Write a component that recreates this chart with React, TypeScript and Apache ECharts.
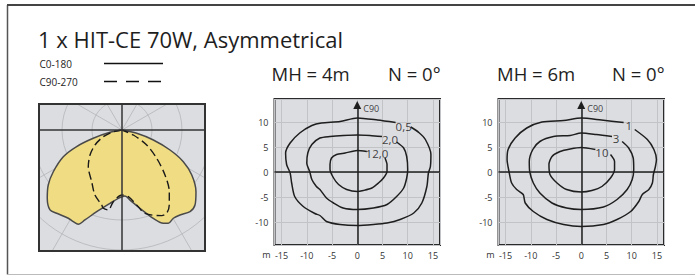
import React, { useEffect, useRef } from "react";
import * as echarts from "echarts";

const TITLE = "1 x HIT-CE 70W, Asymmetrical";
const LEGEND_LABELS = ["C0-180", "C90-270"];
const HEADERS_4M = ["MH = 4m", "N = 0°"];
const HEADERS_6M = ["MH = 6m", "N = 0°"];
const AXIS_UNIT = "m";
const AXIS_NAME = "C90";

// Polar intensity curves: [intensity, angle from nadir in degrees (+ = C0 side / right)]
const C0_180: [number, number][] = [
  [0, -90], [12.2, -79], [29.9, -74], [48.3, -70], [64.5, -65.5], [80.4, -58.7],
  [92, -53.3], [101.2, -47.6], [107.6, -42], [105.8, -38.1], [103.3, -31.3],
  [103.8, -28], [103.9, -24.9], [97.3, -22.4], [85.5, -17.2], [74.3, -9.3],
  [68.4, -3.1], [66.7, 0], [66.1, 2.6], [70.5, 6.5], [80.3, 12.9], [93.7, 19.5],
  [102, 23.9], [104.2, 26.4], [102.1, 30.2], [102.9, 34.3], [106.3, 39.8],
  [104.7, 44.2], [96.3, 50.2], [83, 57.2], [69, 62.7], [52, 67.4], [32.9, 72.3],
  [15.1, 77.3], [0, 90],
];
const C90_270: [number, number][] = [
  [0, -90], [8.9, -78.9], [19.9, -70.3], [30.9, -60.9], [40.6, -52], [49.8, -42.6],
  [59.9, -30.4], [70.4, -22.6], [77.7, -15.1], [80.5, -13.4], [81.2, -9.7],
  [72.2, -6.9], [65, 0], [67, 5.4], [76.4, 11.1], [86.4, 15.4], [94.4, 24.9],
  [94.5, 28.2], [88.7, 32.2], [77.7, 37.5], [62.2, 43.7], [44.8, 50.8],
  [28.9, 58.7], [12.4, 66.1], [0, 90],
];

// Isolux contours, MH = 4m  (x, y in metres)
const ISO_4M_05: [number, number][] = [
  [10.6, 9.0], [12.2, 7.9], [13.5, 6.5], [14.6, 3.5], [14.5, 1.1], [14.1, -0.2],
  [13.8, -2.9], [12.8, -6.2], [11.2, -8.2], [8.5, -9.5], [5.9, -10.2], [3.2, -10.5],
  [0, -10.7], [-3.4, -10.5], [-6.1, -9.9], [-7.4, -8.7], [-8.4, -8.3], [-10.7, -6.9],
  [-12.4, -4.9], [-13, -2.2], [-13.3, -0.2], [-14, 1.5], [-14.2, 3.8], [-13.3, 5.8],
  [-11.4, 7.8], [-9, 9.3], [-7.1, 9.8], [-3.4, 10.1], [0, 10.8], [4, 10.4], [7.6, 9.9],
];
const ISO_4M_20: [number, number][] = [
  [7.8, 6.0], [9.2, 4.8], [9.8, 3.1], [10, 0.5], [9.8, -1.2], [9.2, -3.2], [7.8, -4.9],
  [5.9, -6.5], [3.2, -7.2], [0, -7.5], [-2.8, -7.2], [-4.7, -6.2], [-6.1, -5.2],
  [-7.4, -3.5], [-8.1, -2.9], [-9.0, -1.5], [-9.4, 0], [-10, 1.8], [-9.8, 3.8],
  [-9, 5.5], [-7.4, 6.8], [-5.4, 7.1], [-2.75, 7.3], [0, 7.4], [2.5, 7.3], [4.9, 7.1],
];
const ISO_4M_120: [number, number][] = [
  [5.5, 2.8], [5.9, 1.5], [5.9, 0.1], [5.2, -1.2], [4.2, -2.2], [2.9, -3.2], [1.2, -3.7],
  [0, -3.9], [-2.1, -3.5], [-3.7, -2.5], [-4.7, -1.2], [-5.4, 0.5], [-5.4, 1.5],
  [-5.1, 2.8], [-4.1, 3.5], [-2.4, 3.8], [0, 4.3], [1.9, 4.1],
];
const LABELS_4M = [
  { name: "0,5", value: [9.2, 9.1] },
  { name: "2,0", value: [6.5, 6.5] },
  { name: "12,0", value: [3.9, 3.7] },
];

// Isolux contours, MH = 6m
const ISO_6M_1: [number, number][] = [
  [10.6, 8.5], [13.1, 6.5], [14.4, 4.5], [14.9, 2.5], [14.7, 1.1], [14.3, -0.5],
  [14.1, -2.2], [13.4, -3.5], [12.1, -4.5], [11.4, -5.9], [9.8, -7.9], [7.1, -9.5],
  [4.4, -10.5], [0, -10.9], [-3.5, -10.5], [-6.8, -9.5], [-9.5, -7.9], [-11.1, -6.2],
  [-11.5, -4.5], [-12.8, -3.5], [-13.8, -2.2], [-14.3, 0], [-14.7, 2.5], [-14.5, 4.5],
  [-13.1, 6.8], [-10.8, 8.8], [-7.8, 10], [-3.5, 10.3], [0, 10.8], [4, 10.4], [8.4, 9.9],
];
const ISO_6M_3: [number, number][] = [
  [8.1, 6.1], [9.4, 4.8], [10.3, 2.8], [10.4, 0.5], [10.1, -1.5], [9.1, -3.5], [7.1, -5.5],
  [4.4, -7], [0, -7.5], [-2.9, -7.2], [-5.8, -6.2], [-8.2, -4.2], [-9.5, -2.2],
  [-10.2, 0], [-10.3, 2.1], [-9.6, 4.5], [-8.2, 6.1], [-5.5, 7.1], [-2.2, 7.3],
  [0, 7.8], [3, 7.5], [6.1, 7.1],
];
const ISO_6M_10: [number, number][] = [
  [5.8, 3.5], [6.6, 2.1], [6.6, 0.5], [5.8, -1.2], [4.1, -2.9], [2.1, -3.7], [0, -4],
  [-2.9, -3.5], [-4.8, -2.2], [-6.2, -0.5], [-6.4, 1.5], [-5.8, 3.1], [-4.2, 4.1],
  [-2.2, 4.6], [0, 4.9], [2.8, 4.5],
];
const LABELS_6M = [
  { name: "1", value: [9.4, 9.3] },
  { name: "3", value: [6.9, 6.8] },
  { name: "10", value: [4.1, 3.9] },
];

const X_RANGE = [-16.4, 16.4];
const Y_RANGE = [-14.6, 14.6];

const FONT = "'Open Sans', sans-serif";

export default function App() {
  const ref = useRef<HTMLDivElement>(null);

  useEffect(() => {
    if (!ref.current) return;
    const chart = echarts.init(ref.current, undefined, { renderer: "svg" });

    const gridDefs = [
      { left: 274.5, top: 99, width: 165.5, height: 146 },
      { left: 498.5, top: 99, width: 165.5, height: 146 },
    ];

    const fmt = (v: number) => (Math.abs(v % 5) < 1e-6 ? String(v) : "");

    const xAxes = gridDefs.map((_, i) => ({
      gridIndex: i,
      type: "value",
      min: X_RANGE[0],
      max: X_RANGE[1],
      splitNumber: 6,
      axisLine: { show: false },
      axisTick: { show: false },
      splitLine: { show: true, lineStyle: { color: "#c2c3c7", width: 1 } },
      axisLabel: { formatter: fmt, fontSize: 9, color: "#333", margin: 6, fontFamily: FONT },
    }));
    const yAxes = gridDefs.map((_, i) => ({
      gridIndex: i,
      type: "value",
      min: Y_RANGE[0],
      max: Y_RANGE[1],
      splitNumber: 6,
      axisLine: { show: false },
      axisTick: { show: false },
      splitLine: { show: true, lineStyle: { color: "#c2c3c7", width: 1 } },
      axisLabel: { formatter: fmt, fontSize: 9, color: "#333", margin: 6, fontFamily: FONT },
    }));

    const contourLine = (data: [number, number][], i: number, extra: any = {}) => ({
      type: "line",
      xAxisIndex: i,
      yAxisIndex: i,
      data,
      symbol: "none",
      smooth: 0.25,
      lineStyle: { color: "#1e1e1e", width: 1.5 },
      z: 3,
      silent: true,
      ...extra,
    });

    const axisMarks = (i: number) => [
      {
        markLine: {
          silent: true,
          symbol: ["none", "triangle"],
          symbolSize: 8,
          label: { show: false },
          lineStyle: { color: "#1e1e1e", width: 1.5, type: "solid" },
          data: [[{ coord: [0, Y_RANGE[0]] }, { coord: [0, 13.4] }]],
        },
      },
      {
        markLine: {
          silent: true,
          symbol: ["none", "none"],
          label: { show: false },
          lineStyle: { color: "#1e1e1e", width: 1.5, type: "solid" },
          data: [[{ coord: [X_RANGE[0], 0] }, { coord: [X_RANGE[1], 0] }]],
        },
      },
    ];

    const labelSeries = (labels: any[], i: number) => ({
      type: "scatter",
      xAxisIndex: i,
      yAxisIndex: i,
      symbolSize: 0,
      silent: true,
      z: 6,
      itemStyle: { color: "#1e1e1e" },
      data: [
        ...labels,
        { name: AXIS_NAME, value: [1.2, 12.8], label: { fontSize: 9, align: "left" } },
      ],
      label: {
        show: true,
        formatter: "{b}",
        position: [0, 0],
        align: "center",
        verticalAlign: "middle",
        color: "#111",
        fontSize: 11.5,
        fontFamily: FONT,
      },
    });

    const m4 = axisMarks(0);
    const m6 = axisMarks(1);

    const series: any[] = [
      {
        type: "line",
        coordinateSystem: "polar",
        polarIndex: 0,
        data: C0_180,
        symbol: "none",
        smooth: 0.3,
        lineStyle: { color: "#4a4a4a", width: 1.5 },
        areaStyle: { color: "#f0dc82", opacity: 1 },
        z: 3,
        silent: true,
      },
      {
        type: "line",
        coordinateSystem: "polar",
        polarIndex: 0,
        data: C90_270,
        symbol: "none",
        smooth: 0.3,
        lineStyle: { color: "#1a1a1a", width: 1.4, type: [8, 4] },
        z: 4,
        silent: true,
      },
      contourLine(ISO_4M_05, 0, m4[0]),
      contourLine(ISO_4M_20, 0, m4[1]),
      contourLine(ISO_4M_120, 0),
      labelSeries(LABELS_4M, 0),
      contourLine(ISO_6M_1, 1, m6[0]),
      contourLine(ISO_6M_3, 1, m6[1]),
      contourLine(ISO_6M_10, 1),
      labelSeries(LABELS_6M, 1),
    ];

    const c = "#b4b5b9";
    const t = "rgba(0,0,0,0)";

    const text = (x: number, y: number, s: string, size: number, extra: any = {}) => ({
      type: "text",
      x,
      y,
      z: 100,
      silent: true,
      style: {
        text: s,
        fill: "#1e1e1e",
        font: `${size}px ${FONT}`,
        verticalAlign: "middle",
        align: "left",
        ...extra,
      },
    });

    const graphic: any[] = [
      // polar box background
      { type: "rect", z: -10, silent: true, shape: { x: 39, y: 104, width: 166, height: 147 }, style: { fill: "#dcdde1" } },
      // masks around polar box
      { type: "rect", z: 50, silent: true, shape: { x: 0, y: 0, width: 254, height: 103 }, style: { fill: "#fff" } },
      { type: "rect", z: 50, silent: true, shape: { x: 0, y: 103, width: 38, height: 173 }, style: { fill: "#fff" } },
      { type: "rect", z: 50, silent: true, shape: { x: 206, y: 103, width: 48, height: 173 }, style: { fill: "#fff" } },
      { type: "rect", z: 50, silent: true, shape: { x: 38, y: 252, width: 168, height: 24 }, style: { fill: "#fff" } },
      // polar box border and cross
      { type: "rect", z: 60, silent: true, shape: { x: 39, y: 104, width: 166, height: 147 }, style: { fill: "none", stroke: "#333", lineWidth: 2 } },
      { type: "line", z: 60, silent: true, shape: { x1: 39, y1: 130, x2: 205, y2: 130 }, style: { stroke: "#333", lineWidth: 1.5 } },
      { type: "line", z: 60, silent: true, shape: { x1: 122, y1: 104, x2: 122, y2: 251 }, style: { stroke: "#333", lineWidth: 1.5 } },
      // frame
      { type: "line", z: 100, silent: true, shape: { x1: 7.5, y1: 5, x2: 7.5, y2: 274.5 }, style: { stroke: "#555", lineWidth: 1.5 } },
      { type: "line", z: 100, silent: true, shape: { x1: 7, y1: 5, x2: 695, y2: 5 }, style: { stroke: "#444", lineWidth: 2 } },
      { type: "line", z: 100, silent: true, shape: { x1: 7.5, y1: 274.5, x2: 695, y2: 274.5 }, style: { stroke: "#bbb", lineWidth: 1 } },
      // title
      text(38, 39, TITLE, 22),
      // legend
      text(39.5, 63.5, LEGEND_LABELS[0], 10),
      text(39.5, 81.5, LEGEND_LABELS[1], 10),
      { type: "line", z: 100, silent: true, shape: { x1: 104, y1: 63.5, x2: 163, y2: 63.5 }, style: { stroke: "#111", lineWidth: 1.5 } },
      { type: "line", z: 100, silent: true, shape: { x1: 104, y1: 81.5, x2: 163, y2: 81.5 }, style: { stroke: "#111", lineWidth: 1.5, lineDash: [13, 9] } },
      // headers
      text(271.5, 73, HEADERS_4M[0], 18.5),
      text(388, 73, HEADERS_4M[1], 18.5),
      text(497, 73, HEADERS_6M[0], 18.5),
      text(612, 73, HEADERS_6M[1], 18.5),
      // unit labels
      text(266.5, 254.5, AXIS_UNIT, 9, { align: "center", fill: "#333" }),
      text(490.5, 254.5, AXIS_UNIT, 9, { align: "center", fill: "#333" }),
    ];

    chart.setOption({
      animation: false,
      backgroundColor: "#fff",
      textStyle: { fontFamily: FONT },
      grid: gridDefs.map((g) => ({
        ...g,
        show: true,
        backgroundColor: "#dcdde1",
        borderColor: "#2a2a2a",
        borderWidth: 2,
      })),
      xAxis: xAxes,
      yAxis: yAxes,
      polar: [
        { center: [122, 130], radius: 147 },
        { center: [122, 130], radius: 120 },
      ],
      angleAxis: [
        {
          polarIndex: 0,
          type: "value",
          min: -180,
          max: 180,
          interval: 30,
          startAngle: 90,
          clockwise: false,
          axisLine: { show: false },
          axisTick: { show: false },
          axisLabel: { show: false },
          splitLine: { show: true, lineStyle: { color: [t, c, c, t, c, c, t, c, c, t, c, c], width: 0.8 } },
        },
        {
          polarIndex: 1,
          type: "value",
          min: 0,
          max: 360,
          axisLine: { show: false },
          axisTick: { show: false },
          axisLabel: { show: false },
          splitLine: { show: false },
        },
      ],
      radiusAxis: [
        {
          polarIndex: 0,
          type: "value",
          min: 0,
          max: 147,
          axisLine: { show: false },
          axisTick: { show: false },
          axisLabel: { show: false },
          splitLine: { show: false },
        },
        {
          polarIndex: 1,
          type: "value",
          min: 0,
          max: 120,
          interval: 30,
          axisLine: { show: false },
          axisTick: { show: false },
          axisLabel: { show: false },
          splitLine: { show: true, lineStyle: { color: c, width: 0.8 } },
        },
      ],
      series,
      graphic,
    });

    return () => chart.dispose();
  }, []);

  return (
    <div
      ref={ref}
      style={{ position: "fixed", left: 0, top: 0, width: 695, height: 276 }}
    />
  );
}
